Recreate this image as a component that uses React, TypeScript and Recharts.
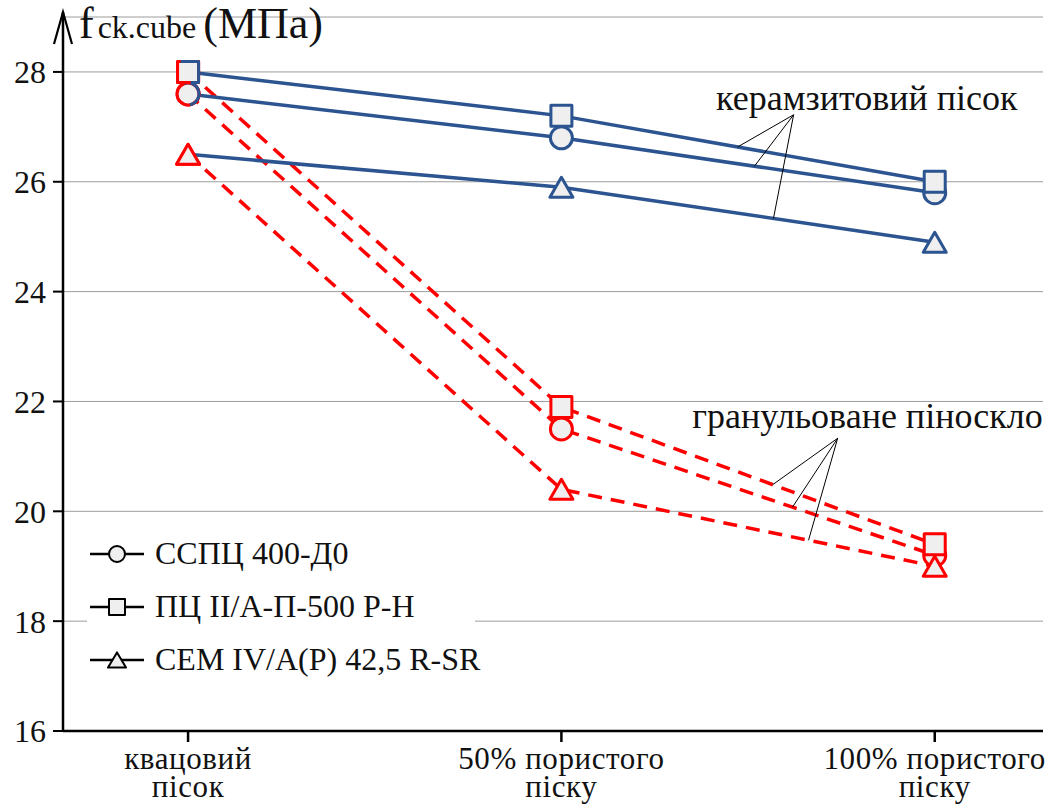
import React from 'react';
import {
  LineChart,
  Line,
  XAxis,
  YAxis,
  CartesianGrid,
  ReferenceDot,
  ReferenceLine,
  Legend,
} from 'recharts';

// Sand type on the x axis (two-line tick labels)
const categoryLines: string[][] = [
  ['квацовий', 'пісок'],
  ['50% пористого', 'піску'],
  ['100% пористого', 'піску'],
];

// Cube strength f_ck.cube, MPa — expanded clay sand (керамзитовий пісок)
const claySSPC = [27.6, 26.8, 25.8];
const clayPC = [28.0, 27.2, 26.0];
const clayCEM = [26.5, 25.9, 24.9];

// Cube strength f_ck.cube, MPa — granulated foam glass (гранульоване піноскло)
const glassSSPC = [27.6, 21.5, 19.2];
const glassPC = [28.0, 21.9, 19.4];
const glassCEM = [26.5, 20.4, 19.0];

const legendNames = ['ССПЦ 400-Д0', 'ПЦ II/А-П-500 Р-Н', 'CEM IV/A(P) 42,5 R-SR'];
const legendKinds: MarkerKind[] = ['circle', 'square', 'triangle'];

const yTicks = [16, 18, 20, 22, 24, 26, 28];
const xTicks = [0, 1, 2];

const X_MIN = -0.335;
const Y_MAX = 29;

const BLUE = '#2c5490';
const RED = '#ff0000';
const FILL = '#efefef';
const FONT = '"Liberation Serif", "Times New Roman", serif';

type MarkerKind = 'circle' | 'square' | 'triangle';

const rows = categoryLines.map((lines, i) => ({
  idx: i,
  name: lines.join(' '),
  claySSPC: claySSPC[i],
  clayPC: clayPC[i],
  clayCEM: clayCEM[i],
  glassSSPC: glassSSPC[i],
  glassPC: glassPC[i],
  glassCEM: glassCEM[i],
}));

// point on a series segment between category 1 and 2 (for leader lines)
const onSeg = (vals: number[], t: number) => ({ x: t, y: vals[1] + (vals[2] - vals[1]) * (t - 1) });

const clayApex = { x: 1.622, y: 27.22 };
const clayLeaders = [onSeg(clayPC, 1.472), onSeg(claySSPC, 1.517), onSeg(clayCEM, 1.568)];
const glassApex = { x: 1.74, y: 21.33 };
const glassLeaders = [onSeg(glassPC, 1.566), onSeg(glassSSPC, 1.619), onSeg(glassCEM, 1.662)];

function markerShape(kind: MarkerKind, cx: number, cy: number, size: number, stroke: string, sw: number) {
  const h = size / 2;
  if (kind === 'circle') {
    return <circle cx={cx} cy={cy} r={h} fill={FILL} stroke={stroke} strokeWidth={sw} />;
  }
  if (kind === 'square') {
    return (
      <rect x={cx - h} y={cy - h} width={size} height={size} fill={FILL} stroke={stroke} strokeWidth={sw} strokeLinejoin="round" />
    );
  }
  const th = size * 0.95;
  const pts = `${cx},${cy - th / 2} ${cx - h - 1},${cy + th / 2} ${cx + h + 1},${cy + th / 2}`;
  return <polygon points={pts} fill={FILL} stroke={stroke} strokeWidth={sw} strokeLinejoin="round" />;
}

// shared starting point: outline partly red, partly blue
function splitMarker(kind: MarkerKind, cx: number, cy: number, size: number) {
  const h = size / 2;
  let overlay: React.ReactNode = null;
  if (kind === 'square') {
    overlay = (
      <path
        d={`M${cx - h + 3},${cy - h} L${cx + h},${cy - h} L${cx + h},${cy + h} L${cx + h - 8},${cy + h}`}
        fill="none"
        stroke={BLUE}
        strokeWidth={3}
        strokeLinejoin="round"
      />
    );
  } else if (kind === 'circle') {
    const a0 = (-110 * Math.PI) / 180;
    const a1 = (80 * Math.PI) / 180;
    overlay = (
      <path
        d={`M${cx + h * Math.cos(a0)},${cy + h * Math.sin(a0)} A${h},${h} 0 1 1 ${cx + h * Math.cos(a1)},${cy + h * Math.sin(a1)}`}
        fill="none"
        stroke={BLUE}
        strokeWidth={3}
      />
    );
  }
  return (
    <g>
      {markerShape(kind, cx, cy, size, RED, 3)}
      {overlay}
    </g>
  );
}

const makeDot = (kind: MarkerKind, color: string, splitFirst: boolean) => (p: any) => {
  const { cx, cy, index } = p;
  if (cx == null || cy == null) return <g key={`d-${kind}-${color}-${index}`} />;
  const size = kind === 'circle' ? 22 : 21;
  return (
    <g key={`d-${kind}-${color}-${index}`}>
      {splitFirst && index === 0 ? splitMarker(kind, cx, cy, size) : markerShape(kind, cx, cy, size, color, 3)}
    </g>
  );
};

const XTick = (p: any) => {
  const { x, y, payload } = p;
  const lines = categoryLines[payload.value] || [];
  return (
    <g>
      {lines.map((l, i) => (
        <text
          key={i}
          x={x}
          y={y + 25 + i * 28}
          textAnchor="middle"
          fontFamily={FONT}
          fontSize={31}
          letterSpacing={0.6}
          fill="#111"
        >
          {l}
        </text>
      ))}
    </g>
  );
};

const AxisArrow = (p: any) => {
  const { cx, cy } = p;
  const top = cy - 5;
  return (
    <g>
      <line x1={cx} y1={cy + 2} x2={cx} y2={top} stroke="#000" strokeWidth={2.5} />
      <path d={`M${cx - 9},${top + 32} L${cx},${top} L${cx + 9},${top + 32}`} fill="none" stroke="#000" strokeWidth={2.2} />
      <text x={cx + 16} y={cy + 21} fontFamily={FONT} fill="#111">
        <tspan fontSize={44}>f</tspan>
        <tspan fontSize={32} dx={4}>ck.cube</tspan>
        <tspan fontSize={44} dx={7}>(МПа)</tspan>
      </text>
    </g>
  );
};

const AnnotationText = (text: string) => (p: any) => (
  <text x={p.cx} y={p.cy} textAnchor="middle" fontFamily={FONT} fontSize={36} fill="#111">
    {text}
  </text>
);

const LegendBox = () => (
  <div style={{ background: '#fff', width: 388, height: 159, fontFamily: FONT, fontSize: 32, color: '#111' }}>
    {legendNames.map((n, i) => (
      <div key={n} style={{ display: 'flex', alignItems: 'center', height: 53 }}>
        <svg width={54} height={30} style={{ marginLeft: 3, flex: 'none' }}>
          <line x1={0} y1={15} x2={54} y2={15} stroke="#000" strokeWidth={2.5} />
          {markerShape(legendKinds[i], 27, 15, 16, '#000', 2)}
        </svg>
        <span style={{ marginLeft: 11, whiteSpace: 'nowrap' }}>{n}</span>
      </div>
    ))}
  </div>
);

export default function App() {
  return (
    <div style={{ position: 'absolute', left: 0, top: 0, width: 1049, height: 808, background: '#fff' }}>
      <LineChart width={1049} height={808} data={rows} margin={{ top: 17, right: 6, bottom: 0, left: 0 }}>
        <CartesianGrid horizontal vertical={false} stroke="#9c9c9c" strokeWidth={1} />
        <XAxis
          dataKey="idx"
          type="number"
          domain={[X_MIN, 2.29]}
          ticks={xTicks}
          allowDataOverflow
          height={77}
          tickSize={11}
          tickMargin={2}
          axisLine={{ stroke: '#000', strokeWidth: 2.5 }}
          tickLine={{ stroke: '#000', strokeWidth: 2.5 }}
          tick={<XTick />}
          interval={0}
        />
        <YAxis
          type="number"
          domain={[16, Y_MAX]}
          ticks={yTicks}
          allowDataOverflow
          width={63}
          tickSize={10}
          tickMargin={7}
          axisLine={{ stroke: '#000', strokeWidth: 2.5 }}
          tickLine={{ stroke: '#000', strokeWidth: 2 }}
          tick={{ fontFamily: FONT, fontSize: 32, fill: '#111' }}
        />
        <Legend
          layout="vertical"
          verticalAlign="middle"
          align="center"
          content={<LegendBox />}
          wrapperStyle={{ left: 87, top: 527, width: 388, height: 159 }}
        />

        {/* foam glass: red dashed */}
        <Line dataKey="glassSSPC" stroke={RED} strokeWidth={3.5} strokeDasharray="14 9" dot={makeDot('circle', RED, false)} isAnimationActive={false} legendType="none" />
        <Line dataKey="glassCEM" stroke={RED} strokeWidth={3.5} strokeDasharray="14 9" dot={makeDot('triangle', RED, false)} isAnimationActive={false} legendType="none" />
        <Line dataKey="glassPC" stroke={RED} strokeWidth={3.5} strokeDasharray="14 9" dot={makeDot('square', RED, false)} isAnimationActive={false} legendType="none" />

        {/* expanded clay: blue solid */}
        <Line dataKey="claySSPC" stroke={BLUE} strokeWidth={3.5} dot={makeDot('circle', BLUE, true)} isAnimationActive={false} legendType="none" />
        <Line dataKey="clayCEM" stroke={BLUE} strokeWidth={3.5} dot={makeDot('triangle', BLUE, true)} isAnimationActive={false} legendType="none" />
        <Line dataKey="clayPC" stroke={BLUE} strokeWidth={3.5} dot={makeDot('square', BLUE, true)} isAnimationActive={false} legendType="none" />

        {clayLeaders.map((e, i) => (
          <ReferenceLine key={`cl${i}`} segment={[clayApex, e]} stroke="#000" strokeWidth={1} ifOverflow="visible" />
        ))}
        {glassLeaders.map((e, i) => (
          <ReferenceLine key={`gl${i}`} segment={[glassApex, e]} stroke="#000" strokeWidth={1} ifOverflow="visible" />
        ))}
        <ReferenceDot x={1.818} y={27.31} r={0} ifOverflow="visible" shape={AnnotationText('керамзитовий пісок')} />
        <ReferenceDot x={1.82} y={21.52} r={0} ifOverflow="visible" shape={AnnotationText('гранульоване піноскло')} />
        <ReferenceDot x={X_MIN} y={Y_MAX} r={0} ifOverflow="visible" shape={AxisArrow} />
      </LineChart>
    </div>
  );
}
